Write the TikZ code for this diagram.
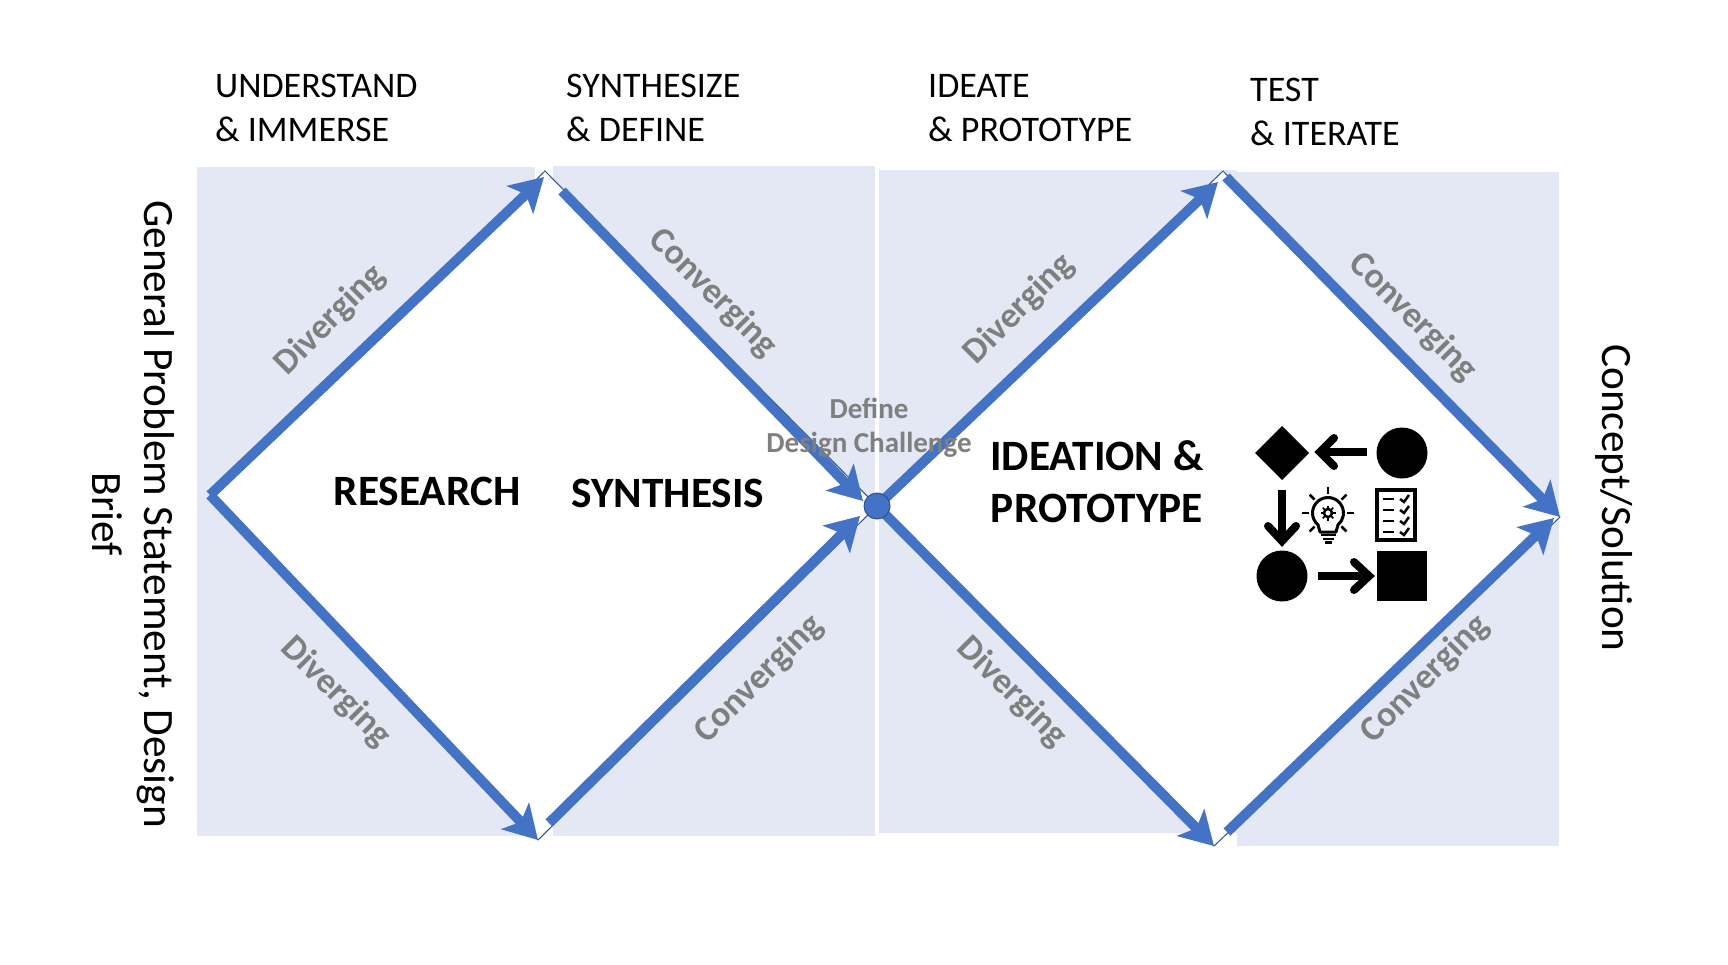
\documentclass[tikz,border=0pt]{standalone}
\usepackage{fontspec}
\setmainfont{Carlito}
\usepackage{xcolor}
\usetikzlibrary{arrows.meta}
\definecolor{panelblue}{HTML}{E4E8F4}
\definecolor{flowblue}{HTML}{4472C4}
\definecolor{edgeblue}{HTML}{2F528F}
\definecolor{labelgray}{HTML}{7F7F7F}
\tikzset{%
    panel/.style={fill=panelblue,draw=none},
    petal/.style={fill=white,draw=edgeblue,line width=1pt},
    flow/.style={flowblue,line width=10pt,-{Stealth[length=33pt,width=38pt,inset=8pt]}},
    phase/.style={align=left,anchor=west,font=\fontsize{36}{44}\selectfont,inner sep=0pt},
    side/.style={align=center,rotate=-90,font=\fontsize{43.3}{52}\selectfont,inner sep=0pt},
    stage/.style={align=center,font=\fontsize{43.3}{52}\selectfont\bfseries,inner sep=0pt},
    tag/.style={labelgray,font=\fontsize{35.8}{38}\selectfont\bfseries,inner sep=0pt},
    icon/.style={black,line width=8pt},
    iconhead/.style={black,line width=8pt,line cap=round,line join=miter}
}
\begin{document}
\begin{tikzpicture}[x=1pt,y=-1pt]
    \path[use as bounding box] (0,0) rectangle (1728,964);
    % panels
    \fill[panel] (197,167) rectangle (535,836);
    \fill[panel] (553,166) rectangle (875,836);
    \fill[panel] (879,170) rectangle (1237,833);
    \fill[panel] (1237,172) rectangle (1559,846);
    % corners of the two diamonds
    \coordinate (L) at (210,495);
    \coordinate (T1) at (545,171);
    \coordinate (B1) at (538,840);
    \coordinate (M) at (877,506);
    \coordinate (T2) at (1223,171);
    \coordinate (B2) at (1214,846);
    \coordinate (R) at (1560,517);
    \draw[petal] (L)--(T1)--(M)--(B1)--cycle;
    \draw[petal] (M)--(T2)--(R)--(B2)--cycle;
    % free ends of the arrows
    \coordinate (a2s) at (562,191);
    \coordinate (a2e) at (863,501);
    \coordinate (a4s) at (549,823);
    \coordinate (a4e) at (860,516);
    \coordinate (a1e) at (544,177);
    \coordinate (a5e) at (1218,182);
    \coordinate (a6s) at (1226,177);
    \coordinate (a8s) at (1227,832);
    \coordinate (a8e) at (1554,518);
    \draw[flow] (L)--(a1e);
    \draw[flow] (L)--(B1);
    \draw[flow] (a2s)--(a2e);
    \draw[flow] (a4s)--(a4e);
    \draw[flow] (M)--(a5e);
    \draw[flow] (M)--(B2);
    \draw[flow] (a6s)--(R);
    \draw[flow] (a8s)--(a8e);
    \node[circle,fill=flowblue,draw=edgeblue,line width=1pt,minimum size=26pt,inner sep=0pt](C) at (M) {};
    % headings
    \node[phase](h1) at (215,108) {UNDERSTAND\\\& IMMERSE};
    \node[phase](h2) at (566,108) {SYNTHESIZE\\\& DEFINE};
    \node[phase](h3) at (928,108) {IDEATE\\\& PROTOTYPE};
    \node[phase](h4) at (1250,112) {TEST\\\& ITERATE};
    \node[side](s1) at (133,514) {General Problem Statement, Design\\Brief};
    \node[side](s2) at (1614,498) {Concept/Solution};
    \node[stage](research) at (427,491) {RESEARCH};
    \node[stage](synthesis) at (668,493) {SYNTHESIS};
    \node[stage](ideation) at (1097,482) {IDEATION \&\\PROTOTYPE};
    % arrow labels
    \node[tag,rotate=45](d1) at (330,320) {Diverging};
    \node[tag,rotate=-45](d2) at (336,692) {Diverging};
    \node[tag,rotate=45](d3) at (1019,309) {Diverging};
    \node[tag,rotate=-45](d4) at (1012,692) {Diverging};
    \node[tag,rotate=-45](c1) at (713,293) {Converging};
    \node[tag,rotate=45](c2) at (759,679) {Converging};
    \node[tag,rotate=-45](c3) at (1413,317) {Converging};
    \node[tag,rotate=45](c4) at (1425,679) {Converging};
    \node[labelgray,align=center,font=\fontsize{29}{34}\selectfont\bfseries,inner sep=0pt](dc) at (869,428) {Define\\Design Challenge};
    % pictogram
    \fill (1282,426)--(1309,453)--(1282,480)--(1255,453)--cycle;
    \fill (1402,453) circle (25.5);
    \fill (1282,576) circle (25.5);
    \fill (1377,551) rectangle (1427,601);
    \draw[icon] (1367,452)--(1323,452);
    \draw[iconhead] (1334,438)--(1320,452)--(1334,466);
    \draw[icon] (1282,490)--(1282,538);
    \draw[iconhead] (1268,526)--(1282,541)--(1296,526);
    \draw[icon] (1318,576)--(1366,576);
    \draw[iconhead] (1354,562)--(1369,576)--(1354,590);
    \draw[black,line width=4pt] (1377,490) rectangle (1415,540);
    \foreach \y in {499,510,521,532}{
        \draw[black,line width=2.5pt] (1383,\y)--(1394,\y);
        \draw[black,line width=2.5pt] (1400,\y)--(1404,\y+3)--(1409,\y-4);
    }
    \coordinate (bulb) at (1328,513);
    \draw[black,line width=3pt,line join=round] (bulb)+(130:15.5) arc[start angle=130,end angle=410,radius=15.5]--(1336,532)--(1320,532)--cycle;
    \foreach \a in {0,45,...,315}{
        \ifnum\a=90\else
        \draw[black,line width=2.5pt] (bulb)+(\a:19)--+(\a:26);
        \fi
    }
    \draw[black,line width=2.5pt] (bulb) circle (4);
    \foreach \a in {0,45,...,315}{
        \draw[black,line width=1.5pt] (bulb)+(\a:5)--+(\a:7.5);
    }
    \draw[black,line width=2.5pt] (1321,535)--(1336,535);
    \draw[black,line width=2.5pt] (1323,539)--(1334,539);
    \draw[black,line width=2.5pt] (1325,542.5)--(1332,542.5);
\end{tikzpicture}
\end{document}
